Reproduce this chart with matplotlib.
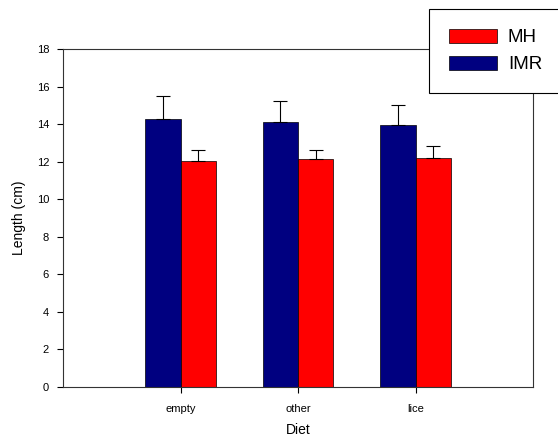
import matplotlib
matplotlib.use("Agg")
import matplotlib.pyplot as plt
import numpy as np

plt.rcParams['font.family'] = ['Liberation Sans', 'DejaVu Sans']

diets = ['empty', 'other', 'lice']
imr_mean = [14.27, 14.09, 13.97]
imr_err = [1.24, 1.16, 1.05]
mh_mean = [12.02, 12.14, 12.19]
mh_err = [0.58, 0.50, 0.66]

x = np.arange(len(diets))
w = 0.3

fig = plt.figure(figsize=(5.58, 4.43), dpi=100)
ax = fig.add_axes([63 / 558, 1 - 387 / 443, 470 / 558, 338 / 443])

err_kw = dict(ecolor='black', elinewidth=0.8, capsize=5, capthick=0.8)
b_imr = ax.bar(x - w / 2, imr_mean, w, color='#000080', edgecolor='black', linewidth=0.5,
               yerr=[np.zeros(3), imr_err], error_kw=err_kw, label='IMR')
b_mh = ax.bar(x + w / 2, mh_mean, w, color='#ff0000', edgecolor='black', linewidth=0.5,
              yerr=[np.zeros(3), mh_err], error_kw=err_kw, label='MH')

ax.set_xlim(-1, 3)
ax.set_ylim(0, 18)
ax.set_yticks(np.arange(0, 19, 2))
ax.set_xticks(x)
ax.set_xticklabels(diets)
ax.tick_params(axis='both', labelsize=8, length=4, width=0.8, direction='out', pad=6)
ax.tick_params(axis='x', pad=8)
for s in ax.spines.values():
    s.set_linewidth(0.8)
    s.set_color('#333333')

ax.set_xlabel('Diet', fontsize=10, labelpad=7)
ax.set_ylabel('Length (cm)', fontsize=10, labelpad=8)

leg = fig.legend([b_mh, b_imr], ['MH', 'IMR'], loc='upper left',
                 bbox_to_anchor=(429 / 558, 1 - 9 / 443), fontsize=13.5,
                 frameon=True, fancybox=False, edgecolor='black', framealpha=1,
                 handlelength=2.6, handleheight=0.8, borderpad=1.05, labelspacing=0.5,
                 handletextpad=0.55, borderaxespad=0)
leg.get_frame().set_linewidth(0.8)

fig.savefig('out.png', dpi=100)
